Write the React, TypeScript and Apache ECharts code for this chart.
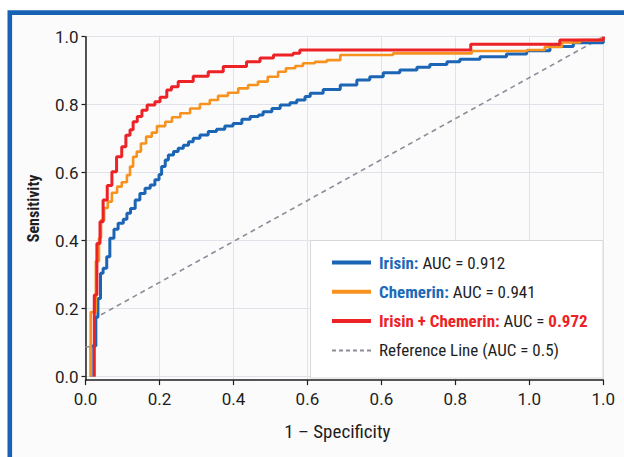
import React, { useEffect, useRef } from "react";
import * as echarts from "echarts";

const seriesNames = ["Irisin", "Chemerin", "Irisin + Chemerin", "Reference Line"];
const aucValues = [0.912, 0.941, 0.972, 0.5];
const seriesColors = ["#1b65b4", "#f7921e", "#ec2227", "#8b8e98"];

const xTickLabels = ["0.0", "0.2", "0.4", "0.6", "0.6", "0.8", "1.0", "1.0"];
const yTickValues = [0, 0.2, 0.4, 0.6, 0.8, 1.0];

const irisinROC: [number, number][] = [
  [0.011, 0], [0.011, 0.09], [0.02, 0.175], [0.024, 0.23], [0.029, 0.304], [0.034, 0.319],
  [0.041, 0.353], [0.047, 0.407], [0.055, 0.434], [0.063, 0.451], [0.073, 0.463], [0.08, 0.481],
  [0.087, 0.495], [0.096, 0.52], [0.105, 0.539], [0.115, 0.554], [0.125, 0.564], [0.134, 0.579],
  [0.142, 0.595], [0.147, 0.618], [0.154, 0.637], [0.16, 0.652], [0.17, 0.662], [0.179, 0.672],
  [0.189, 0.681], [0.199, 0.691], [0.208, 0.701], [0.221, 0.711], [0.237, 0.721], [0.253, 0.728],
  [0.269, 0.737], [0.285, 0.745], [0.302, 0.757], [0.318, 0.765], [0.334, 0.77], [0.343, 0.779],
  [0.36, 0.789], [0.376, 0.799], [0.395, 0.806], [0.408, 0.814], [0.424, 0.824], [0.434, 0.834],
  [0.459, 0.845], [0.492, 0.858], [0.524, 0.873], [0.549, 0.882], [0.575, 0.894], [0.607, 0.902],
  [0.64, 0.91], [0.665, 0.918], [0.698, 0.926], [0.723, 0.934], [0.762, 0.941], [0.813, 0.949],
  [0.852, 0.959], [0.897, 0.971], [0.942, 0.982], [1.0, 1.0],
];

const chemerinROC: [number, number][] = [
  [0.01, 0], [0.01, 0.19], [0.02, 0.34], [0.026, 0.408], [0.03, 0.461], [0.036, 0.496],
  [0.043, 0.515], [0.051, 0.541], [0.061, 0.559], [0.07, 0.572], [0.08, 0.593], [0.086, 0.618],
  [0.092, 0.647], [0.099, 0.662], [0.107, 0.686], [0.117, 0.706], [0.128, 0.718], [0.138, 0.737],
  [0.154, 0.75], [0.167, 0.763], [0.183, 0.775], [0.202, 0.789], [0.221, 0.802], [0.24, 0.814],
  [0.256, 0.826], [0.275, 0.835], [0.295, 0.848], [0.314, 0.858], [0.333, 0.868], [0.352, 0.882],
  [0.372, 0.897], [0.387, 0.907], [0.405, 0.914], [0.42, 0.922], [0.443, 0.926], [0.466, 0.931],
  [0.492, 0.946], [0.594, 0.951], [0.746, 0.958], [0.853, 0.961], [0.887, 0.97], [0.92, 0.983],
  [0.955, 0.99], [1.0, 1.0],
];

const combinedROC: [number, number][] = [
  [0.017, 0], [0.017, 0.24], [0.022, 0.392], [0.028, 0.456], [0.034, 0.52], [0.042, 0.562],
  [0.051, 0.603], [0.06, 0.647], [0.07, 0.676], [0.078, 0.71], [0.086, 0.726], [0.092, 0.75],
  [0.1, 0.765], [0.109, 0.784], [0.119, 0.799], [0.134, 0.809], [0.144, 0.822], [0.157, 0.843],
  [0.166, 0.853], [0.179, 0.868], [0.208, 0.884], [0.237, 0.897], [0.266, 0.912], [0.311, 0.926],
  [0.337, 0.937], [0.363, 0.946], [0.401, 0.951], [0.414, 0.961], [0.744, 0.978], [0.916, 0.99],
  [1.0, 1.0],
];

const referenceLine: [number, number][] = [
  [0, 0.088], [0.018, 0.088], [0.018, 0.172], [1.0, 1.0],
];

const NARROW = '"Liberation Sans Narrow", "Roboto Condensed", Roboto, sans-serif';
const TICKFONT = 'Roboto, "Noto Sans", sans-serif';

export default function App() {
  const ref = useRef<HTMLDivElement>(null);
  useEffect(() => {
    if (!ref.current) return;
    const chart = echarts.init(ref.current, null, { renderer: "svg" });
    const xTickPositions = xTickLabels.map((_, i) => i / (xTickLabels.length - 1));
    const legendText = [
      `{b|${seriesNames[0]}:} {n|AUC = ${aucValues[0].toFixed(3)}}`,
      `{b|${seriesNames[1]}:} {n|AUC = ${aucValues[1].toFixed(3)}}`,
      `{r|${seriesNames[2]}:} {n|AUC = }{r|${aucValues[2].toFixed(3)}}`,
      `{n|${seriesNames[3]} (AUC = ${aucValues[3]})}`,
    ];
    const dataSets = [irisinROC, chemerinROC, combinedROC];
    const option: any = {
      animation: false,
      backgroundColor: "#ffffff",
      textStyle: { fontFamily: NARROW },
      graphic: [
        {
          type: "rect",
          z: -1,
          shape: { x: 9.8, y: 12.6, width: 700, height: 500 },
          style: { fill: "#fbfbfc", stroke: "#1762b2", lineWidth: 4.6 },
        },
        {
          type: "rect",
          z: 3,
          shape: { x: 310.5, y: 240.5, width: 292.5, height: 137.5 },
          style: { fill: "#ffffff", stroke: "#d8d8dc", lineWidth: 1 },
        },
      ],
      grid: { left: 85.5, right: 20.7, top: 36.7, bottom: 76.9 },
      xAxis: {
        type: "value",
        min: 0,
        max: 1,
        name: "1 \u2013 Specificity",
        nameLocation: "middle",
        nameGap: 42,
        nameTextStyle: { fontFamily: NARROW, fontSize: 19, color: "#1e1e1e", padding: [0, 14, 0, 0] },
        axisLine: { show: true, onZero: false, lineStyle: { color: "#1e1e1e", width: 1.5 } },
        axisTick: { show: true, length: 5, customValues: xTickPositions, lineStyle: { color: "#1e1e1e", width: 1.2 } },
        axisLabel: {
          customValues: xTickPositions,
          margin: 10,
          fontFamily: TICKFONT,
          fontSize: 17,
          color: "#1e1e1e",
          formatter: (v: number) => xTickLabels[Math.round(v * (xTickLabels.length - 1))],
        },
        splitLine: { show: true, lineStyle: { color: "#e2e3ea", width: 1 } },
      },
      yAxis: {
        type: "value",
        min: -0.01,
        max: 1,
        name: "Sensitivity",
        nameLocation: "middle",
        nameGap: 44,
        nameTextStyle: { fontFamily: NARROW, fontSize: 16, fontWeight: "bold", color: "#1e1e1e" },
        axisLine: { show: true, onZero: false, lineStyle: { color: "#1e1e1e", width: 1.5 } },
        axisTick: { show: true, length: 4, customValues: yTickValues, lineStyle: { color: "#1e1e1e", width: 1.2 } },
        axisLabel: {
          customValues: yTickValues,
          margin: 7,
          fontFamily: TICKFONT,
          fontSize: 17,
          color: "#1e1e1e",
          formatter: (v: number) => v.toFixed(1),
        },
        splitLine: { show: true, lineStyle: { color: "#e2e3ea", width: 1 } },
      },
      legend: {
        orient: "vertical",
        left: 330,
        top: 254,
        padding: 0,
        z: 5,
        itemWidth: 39,
        itemHeight: 14,
        itemGap: 12.3,
        data: seriesNames.map((n, i) => ({
          name: n,
          itemStyle: { opacity: 0 },
          lineStyle: i < 3 ? { width: 4 } : { width: 2, type: [4, 3] },
        })),
        formatter: (name: string) => legendText[seriesNames.indexOf(name)],
        textStyle: {
          fontFamily: NARROW,
          fontSize: 17,
          color: "#1e1e1e",
          padding: [0, 0, 0, 3],
          rich: {
            b: { fontFamily: NARROW, fontSize: 17, fontWeight: "bold", color: "#1b6ab7", lineHeight: 20 },
            r: { fontFamily: NARROW, fontSize: 17, fontWeight: "bold", color: "#ec2227", lineHeight: 20 },
            n: { fontFamily: NARROW, fontSize: 17, color: "#1e1e1e", lineHeight: 20 },
          },
        },
      },
      series: [
        {
          name: seriesNames[3],
          type: "line",
          data: referenceLine,
          symbol: "none",
          z: 2,
          lineStyle: { color: seriesColors[3], width: 1.6, type: [5, 4] },
          itemStyle: { color: seriesColors[3] },
        },
        ...dataSets.map((d, i) => ({
          name: seriesNames[i],
          type: "line",
          step: "end",
          data: d,
          symbol: "none",
          z: 2 + i,
          lineStyle: { color: seriesColors[i], width: i === 1 ? 2.6 : 3 },
          itemStyle: { color: seriesColors[i] },
        })),
      ],
    };
    chart.setOption(option);
    return () => chart.dispose();
  }, []);
  return (
    <div
      ref={ref}
      style={{ position: "fixed", left: 0, top: 0, width: 624, height: 457 }}
    />
  );
}
